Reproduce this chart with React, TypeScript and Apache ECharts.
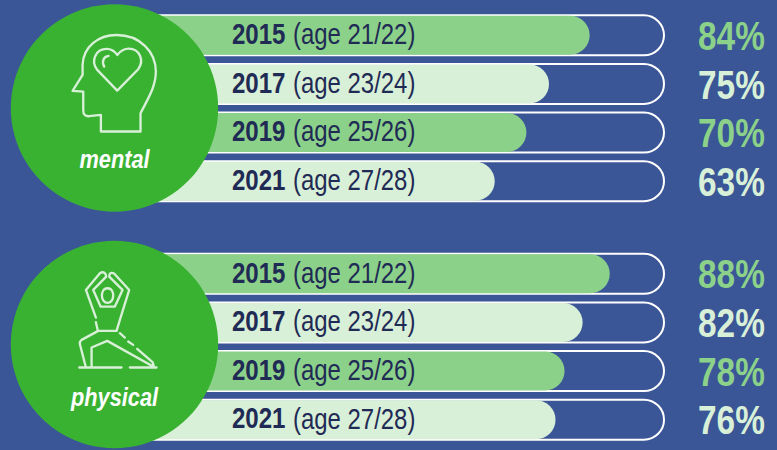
import React, { useEffect, useRef } from "react";
import * as echarts from "echarts";

const years = ["2015", "2017", "2019", "2021"];
const mentalAges = ["age 21/22", "age 23/24", "age 25/26", "age 27/28"];
const physicalAges = ["age 21/22", "age 23/24", "age 25/26", "age 27/28"];
const mentalValues = [84, 75, 70, 63];
const physicalValues = [88, 82, 78, 76];
const trackValues = [100, 100, 100, 100];
const leftStub = [-25, -25, -25, -25];

const BG = "#3b5697";
const GREEN = "#8bd189";
const PALE = "#d9f0d8";
const CIRCLE = "#39b232";
const DARK = "#1f2a55";
const FONT = "'Liberation Sans', Arial, sans-serif";

const headD =
  "M422,395 L303,395 L303,345 L268,349 Q250,350 250,332 L250,275 L218,273 L248,225 L248,195 C250,140 295,105 350,105 C420,105 468,155 468,215 C468,260 445,295 422,340 Z";
const heartD =
  "M352,272 L292,210 C270,180 290,147 320,147 C335,147 345,155 352,165 C360,155 372,146 387,146 C418,146 435,180 415,208 Z";
const glintD = "M326,168 C312,170 304,183 313,200";
const yogaD =
  "M288,278 L258,195 L300,145 Q310,138 317,147 L319,155 L280,195 L302,245 L345,245 L368,195 L328,155 Q328,140 342,145 L388,195 L360,285 L350,318 " +
  "M323,190 C336,190 340,203 340,212 C340,224 333,234 323,234 C313,234 306,224 306,212 C306,203 310,190 323,190 " +
  "M288,292 L294,318 M295,318 L350,318 M295,318 L245,345 Q238,350 240,358 L258,428 " +
  "M275,428 L275,368 L322,348 L460,425 M360,325 L375,338 M385,350 L400,360 M412,372 L458,412 Q463,420 460,428 " +
  "M238,428 L365,428 M390,428 L470,428";

echarts.graphic.registerShape("headIcon", echarts.graphic.extendPath(headD, {}));
echarts.graphic.registerShape("heartIcon", echarts.graphic.extendPath(heartD, {}));
echarts.graphic.registerShape("glintIcon", echarts.graphic.extendPath(glintD, {}));
echarts.graphic.registerShape("yogaIcon", echarts.graphic.extendPath(yogaD, {}));

const buildOption = () => {
  const panels = [
    { name: "mental", top: 11, values: mentalValues, ages: mentalAges, left: 97 },
    { name: "physical", top: 249.5, values: physicalValues, ages: physicalAges, left: 99 },
  ];
  const grid: any[] = [];
  const xAxis: any[] = [];
  const yAxis: any[] = [];
  const series: any[] = [];
  const hiddenX = { type: "value", min: -25, max: 100, show: false };

  panels.forEach((p) => {
    // outline track
    let g = grid.length;
    grid.push({ left: 99, width: 565, top: p.top, height: 194.5 });
    xAxis.push({ ...hiddenX, gridIndex: g });
    yAxis.push({ type: "category", gridIndex: g, inverse: true, data: years, show: false });
    series.push({
      type: "bar",
      xAxisIndex: g,
      yAxisIndex: g,
      data: trackValues,
      barWidth: 40,
      silent: true,
      itemStyle: { color: "transparent" },
      showBackground: true,
      backgroundStyle: {
        color: "transparent",
        borderColor: "#ffffff",
        borderWidth: 2,
        borderRadius: [0, 21, 21, 0],
      },
    });
    // filled bars and their texts
    g = grid.length;
    grid.push({ left: p.left, width: 565, top: p.top, height: 194.5 });
    xAxis.push({ ...hiddenX, gridIndex: g });
    yAxis.push({ type: "category", gridIndex: g, inverse: true, data: years, show: false });
    const colored = (arr: number[], round: boolean) =>
      arr.map((v, i) => ({
        value: v,
        itemStyle: {
          color: i % 2 === 0 ? GREEN : PALE,
          borderRadius: round ? [0, 19.5, 19.5, 0] : 0,
        },
      }));
    series.push({
      type: "bar",
      stack: `fill-${p.name}`,
      xAxisIndex: g,
      yAxisIndex: g,
      barWidth: 39,
      data: colored(p.values, true),
    });
    series.push({
      type: "bar",
      stack: `fill-${p.name}`,
      xAxisIndex: g,
      yAxisIndex: g,
      barWidth: 39,
      data: colored(leftStub, false),
    });
    series.push({
      type: "custom",
      xAxisIndex: g,
      yAxisIndex: g,
      z: 6,
      silent: true,
      clip: false,
      encode: { x: 0, y: 1 },
      data: p.values.map((v, i) => [v, i]),
      renderItem: (params: any, api: any) => {
        const i = params.dataIndex;
        const rowY = api.coord([0, i])[1];
        const trackRight = 664;
        return {
          type: "group",
          children: [
            {
              type: "text",
              x: 232,
              y: rowY - 1,
              scaleX: 0.83,
              style: {
                text: years[i],
                fill: DARK,
                font: `bold 29px ${FONT}`,
                textAlign: "left",
                textVerticalAlign: "middle",
              },
            },
            {
              type: "text",
              x: 293,
              y: rowY - 1,
              scaleX: 0.825,
              style: {
                text: `(${p.ages[i]})`,
                fill: DARK,
                font: `29px ${FONT}`,
                textAlign: "left",
                textVerticalAlign: "middle",
              },
            },
            {
              type: "text",
              x: trackRight + 34,
              y: rowY + 1,
              scaleX: 0.835,
              style: {
                text: `${api.value(0)}%`,
                fill: i % 2 === 0 ? GREEN : PALE,
                font: `bold 40px ${FONT}`,
                textAlign: "left",
                textVerticalAlign: "middle",
              },
            },
          ],
        };
      },
    });
  });

  const iconStyle = { fill: "none", stroke: PALE, lineWidth: 7, lineCap: "round", lineJoin: "round" };
  const scale = 1 / 3;
  const icon = (type: string, y: number) => ({
    type,
    x: 0,
    y,
    scaleX: scale,
    scaleY: scale,
    z: 110,
    style: iconStyle,
  });
  const caption = (text: string, y: number) => ({
    type: "text",
    x: 114.5,
    y,
    z: 110,
    scaleX: 0.87,
    style: {
      text,
      fill: "#ffffff",
      font: `italic bold 25px ${FONT}`,
      textAlign: "center",
      textVerticalAlign: "middle",
    },
  });

  return {
    animation: false,
    backgroundColor: BG,
    grid,
    xAxis,
    yAxis,
    series,
    graphic: {
      elements: [
        { type: "circle", shape: { cx: 114.5, cy: 108, r: 103.7 }, z: 100, style: { fill: CIRCLE } },
        { type: "circle", shape: { cx: 114.5, cy: 344.5, r: 103.7 }, z: 100, style: { fill: CIRCLE } },
        icon("headIcon", 0),
        icon("heartIcon", 0),
        icon("glintIcon", 0),
        icon("yogaIcon", 225),
        caption("mental", 159),
        caption("physical", 397),
      ],
    },
  };
};

export default function App() {
  const ref = useRef<HTMLDivElement>(null);
  useEffect(() => {
    document.body.style.margin = "0";
    const chart = echarts.init(ref.current!, null, { renderer: "svg" });
    chart.setOption(buildOption() as any);
    return () => chart.dispose();
  }, []);
  return <div ref={ref} style={{ width: 777, height: 450 }} />;
}
